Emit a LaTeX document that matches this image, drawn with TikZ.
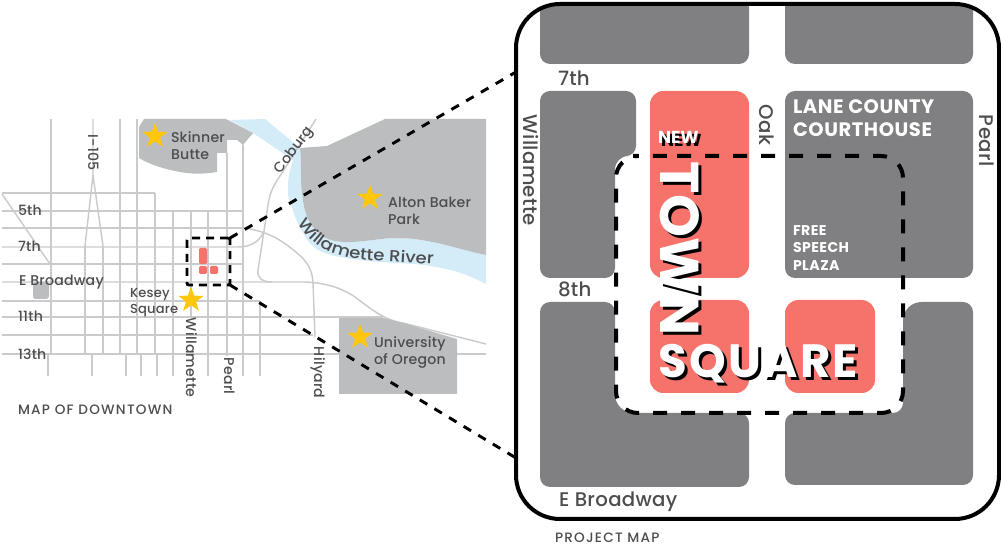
\documentclass[tikz,border=0pt]{standalone}
\usepackage{fontspec}
\setmainfont{Poppins}
\newfontfamily\labfont[LetterSpace=1.5]{Poppins Medium}
\newfontfamily\riverfont[FakeStretch=1.13]{Poppins Medium}
\newfontfamily\capsfont[LetterSpace=9]{Poppins Medium}
\newfontfamily\wideboldfont[LetterSpace=3,BoldFont=*]{Poppins Bold}
\newfontfamily\squarefont[LetterSpace=5,BoldFont=*]{Poppins Bold}
\usetikzlibrary{shapes.geometric,decorations.text}
\definecolor{blockgray}{HTML}{808082}
\definecolor{parkgray}{HTML}{BCBDBF}
\definecolor{linegray}{HTML}{CBCBCD}
\definecolor{rivercol}{HTML}{D3ECF7}
\definecolor{coral}{HTML}{F5736B}
\definecolor{goldstar}{HTML}{FFC60B}
\definecolor{inkgray}{HTML}{4D4D4F}
\tikzset{
  road/.style={draw=linegray,line width=1.1pt},
  block/.style={fill=blockgray,rounded corners=7.5pt},
  redblock/.style={fill=coral,rounded corners=10pt},
  park/.style={fill=parkgray},
  starmark/.style={star,star points=5,star point ratio=2.5,fill=goldstar,minimum size=20pt,inner sep=0pt,outer sep=0pt},
  lab/.style={anchor=base west,inner sep=0pt,outer sep=0pt,text=inkgray,font=\labfont\fontsize{10.6}{12}\selectfont},
  smalllab/.style={lab,font=\labfont\fontsize{9.8}{12}\selectfont},
  biglab/.style={lab,font=\labfont\fontsize{14.8}{16}\selectfont},
  caplab/.style={lab,font=\capsfont\fontsize{10.2}{12}\selectfont},
  whitelab/.style={anchor=base west,inner sep=0pt,outer sep=0pt,text=white},
  connector/.style={line width=2.2pt,dash pattern=on 6.5pt off 6.3pt},
}
\newcommand{\shadowlab}[6]{%
  \node[whitelab,text=black,rotate=#2,font=#5] (#1s) at (#3+3,#4+3) {#6};
  \node[whitelab,rotate=#2,font=#5] (#1) at (#3,#4) {#6};}
\begin{document}
\begin{tikzpicture}[x=0.75pt,y=-0.75pt]
\useasboundingbox (0,0) rectangle (1001,545);
% river
\fill[rivercol] (230,120) -- (265,119) -- (300,148) .. controls (302,165) and (300,180) .. (302,193)
  .. controls (304,210) and (306,215) .. (310,223) .. controls (320,238) and (330,241) .. (343,242)
  .. controls (360,243) and (380,238) .. (397,238) .. controls (430,238) and (460,250) .. (486,255)
  -- (486,284) .. controls (470,276) and (460,272) .. (450,270) .. controls (430,265) and (415,264) .. (397,263)
  .. controls (375,262) and (355,260) .. (340,257) .. controls (325,254) and (315,250) .. (310,243)
  .. controls (300,230) and (295,218) .. (293,210) .. controls (289,200) and (287,195) .. (288,187)
  .. controls (288,175) and (291,168) .. (293,160) -- (253,133) -- cycle;
% streets
\foreach \yy/\xx in {193/155,211/243,228/243,264/243,301/260,317/383,335/313,354/486}
  \draw[road] (2,\yy) -- (\xx,\yy);
\foreach \xx/\ya/\yb in {51/119/354,85/246/354,103/246/354,120/119/354,137/119/354,155/193/354,
  173/211/376,191/211/316,208/211/376,227/153/356,243/145/376,260/301/376,
  48/354/376,92/354/376,126/354/376,141/354/376,157/354/376}
  \draw[road] (\xx,\ya) -- (\xx,\yb);
\draw[road] (2,194) -- (50,264);
\draw[road] (93,119) -- (93,175) -- (85,246);
\draw[road] (93,175) -- (103,246);
\draw[road] (2,247) -- (238,247) .. controls (250,247) and (259,242) .. (263,233);
\draw[road] (316,119) -- (282,173) .. controls (273,186) and (270,192) .. (268,205)
  -- (258,270) .. controls (257,278) and (262,282) .. (272,282);
\draw[road] (2,282) -- (305,282) .. controls (325,283) and (340,287) .. (355,297)
  .. controls (375,312) and (385,320) .. (403,323) -- (486,344);
\draw[road] (243,228) .. controls (270,231) and (285,243) .. (297,253)
  .. controls (308,262) and (312,270) .. (313,282) -- (315,337);
% parks
\fill[park] (139,127) -- (144,119) -- (226,119) -- (253,133) -- (243,145) -- (237,140) -- (227,140)
  -- (227,153) -- (217,153) -- (217,172) .. controls (205,174) and (195,174) .. (187,173)
  .. controls (170,171) and (150,165) .. (139,158) -- cycle;
\fill[park] (300,148) -- (327,146) -- (385,119) -- (486,119) -- (486,255)
  .. controls (460,250) and (430,238) .. (397,238) .. controls (380,238) and (360,243) .. (343,242)
  .. controls (330,241) and (320,238) .. (310,223) .. controls (306,215) and (304,210) .. (302,193)
  .. controls (300,180) and (302,165) .. (300,148) -- cycle;
\fill[park] (339,318) -- (383,318) -- (403,323) -- (457,339) -- (457,394) -- (339,394) -- cycle;
\fill[park,rounded corners=2pt] (33,282) rectangle (49,299);
% small site
\fill[coral,rounded corners=1pt] (199,248) rectangle (207,264);
\fill[coral,rounded corners=1pt] (199,266) rectangle (207,274);
\fill[coral,rounded corners=1pt] (210,266) rectangle (218,274);
\node[starmark] (starA) at (155,136) {};
\node[starmark] (starB) at (370,198) {};
\node[starmark] (starC) at (191,300) {};
\node[starmark] (starD) at (360,337) {};
% large map blocks
\begin{scope}
\clip[rounded corners=33pt] (516,4) rectangle (999,519);
\fill[blockgray,rounded corners=7.5pt] (540,-20) rectangle (749,64);
\fill[blockgray,rounded corners=7.5pt] (785,-20) rectangle (973,64);
\end{scope}
\fill[block] (540,91) -- (636,91) -- (636,156) [rounded corners=10pt] -- (615,156) [rounded corners=7.5pt] -- (615,278) -- (540,278) -- cycle;
\fill[block] (540,302) -- (615,302) [rounded corners=14pt] -- (615,413) [rounded corners=7.5pt] -- (749,413) -- (749,487) -- (540,487) -- cycle;
\fill[block] (785,413) -- (903,413) [rounded corners=14pt] -- (903,302) [rounded corners=7.5pt] -- (973,302) -- (973,485) -- (785,485) -- cycle;
\fill[block] (785,91) rectangle (973,278);
\fill[redblock] (650,91) rectangle (749,278);
\fill[redblock] (650,300) rectangle (749,393);
\fill[redblock] (785,300) rectangle (875,393);
% frames
\node[draw=black,line width=3pt,rounded corners=33pt,minimum width=362.25pt,minimum height=386.25pt,inner sep=0pt,outer sep=0pt] (bigframe) at (757.5,261.5) {};
\draw[black,line width=3pt,dash pattern=on 10.5pt off 10.5pt,rounded corners=16.5pt] (655,156) -- (903,156) -- (903,413) -- (616,413) -- (616,156) -- cycle;
\node[draw=black,line width=2.2pt,dash pattern=on 6pt off 4.5pt,rounded corners=1.5pt,minimum width=32.25pt,minimum height=35.25pt,inner sep=0pt,outer sep=0pt] (smallbox) at (208.5,261.5) {};
\coordinate (frameU) at (516,72);
\coordinate (frameL) at (516,458);
\draw[connector] (smallbox.north east) -- (frameU);
\draw[connector] (smallbox.south east) -- (frameL);
% left labels
\node[lab] (l5) at (18,216) {5th};
\node[lab] (l7) at (18,252) {7th};
\node[lab] (lB) at (19,286) {E Broadway};
\node[lab] (l11) at (18,322) {11th};
\node[lab] (l13) at (18,360) {13th};
\node[lab,rotate=-90] (lI) at (88,135) {I-105};
\node[lab] (lS1) at (171,143) {Skinner};
\node[lab] (lS2) at (171,160) {Butte};
\node[lab] (lA1) at (388,208) {Alton Baker};
\node[lab] (lA2) at (388,225) {Park};
\node[smalllab] (lK1) at (130,298) {Kesey};
\node[smalllab] (lK2) at (130,314) {Square};
\node[lab] (lU1) at (374,348) {University};
\node[lab] (lU2) at (374,365) {of Oregon};
\node[lab,rotate=-90] (lW) at (186,318) {Willamette};
\node[lab,rotate=-90] (lP) at (224,358) {Pearl};
\node[lab,rotate=-90] (lH) at (314,347) {Hilyard};
\node[lab,rotate=53,anchor=base] (lC) at (297,153) {Coburg};
\path[decorate,decoration={text along path,text={|\riverfont\fontsize{12}{14}\selectfont\color{inkgray}|Willamette River},text align=left}]
  (298,223) .. controls (312,245) and (328,256) .. (363,260) -- (450,265);
\node[caplab] (lM) at (18,415) {MAP OF DOWNTOWN};
\node[caplab] (lPM) at (555,542) {PROJECT MAP};
% right labels
\node[biglab] (r7) at (558,86) {7th};
\node[biglab] (r8) at (558,297) {8th};
\node[biglab] (rB) at (559,507) {E Broadway};
\node[biglab,rotate=-90] (rW) at (523,115) {Willamette};
\node[biglab,rotate=-90] (rO) at (759,105) {Oak};
\node[biglab,rotate=-90] (rP) at (979,115) {Pearl};
\node[whitelab,font=\wideboldfont\fontsize{14.6}{16}\selectfont] (c1) at (793,114) {LANE COUNTY};
\node[whitelab,font=\wideboldfont\fontsize{14.6}{16}\selectfont] (c2) at (793,137) {COURTHOUSE};
\node[whitelab,font=\wideboldfont\fontsize{10.6}{12}\selectfont] (f1) at (793,236) {FREE};
\node[whitelab,font=\wideboldfont\fontsize{10.6}{12}\selectfont] (f2) at (793,253) {SPEECH};
\node[whitelab,font=\wideboldfont\fontsize{10.6}{12}\selectfont] (f3) at (793,271) {PLAZA};
\shadowlab{tn}{0}{658}{144}{\fontsize{13}{15}\selectfont\bfseries}{NEW}
\shadowlab{tt}{-90}{660}{162}{\fontsize{41}{44}\selectfont\bfseries}{TOWN}
\shadowlab{ts}{0}{658}{378}{\squarefont\fontsize{35}{38}\selectfont}{SQUARE}
\end{tikzpicture}
\end{document}
